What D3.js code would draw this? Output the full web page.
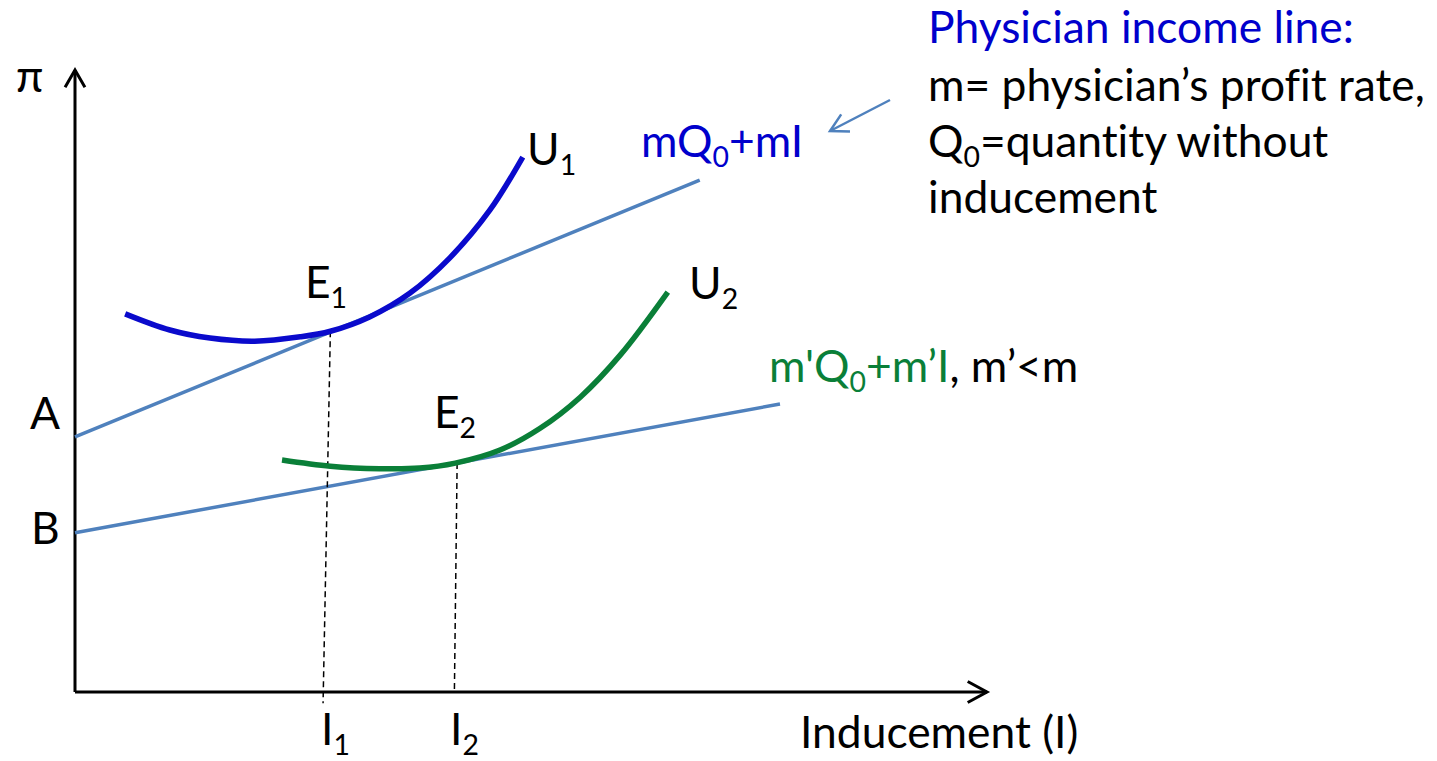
<!DOCTYPE html>
<html>
<head>
<meta charset="utf-8">
<script src="https://cdn.jsdelivr.net/npm/d3@7"></script>
<style>
  body { margin: 0; background: #fff; }
  svg { display: block; }
  text { font-family: Lato, "Open Sans", sans-serif; font-variant-ligatures: none; }
</style>
</head>
<body>
<script>
const width = 1437, height = 761;

// physician income lines, [I, pi] end points
const lineA = [[0, 41.0], [68.5, 82.3]];
const lineB = [[0, 25.6], [77.3, 46.3]];

// indifference curves
const u1I  = [5.5, 10.4, 14.8, 19.7, 24.7, 28.0, 32.3, 36.7, 41.1, 45.5, 49.1];
const u1Pi = [60.8, 58.2, 56.9, 56.4, 57.1, 58.0, 60.3, 64.1, 69.8, 77.5, 86.0];
const u2I  = [22.7, 28.0, 33.4, 37.8, 41.7, 46.6, 51.0, 55.4, 59.8, 65.0];
const u2Pi = [37.3, 36.3, 35.9, 36.0, 36.8, 38.9, 42.4, 47.4, 54.2, 64.3];

// equilibrium drop lines, [I, pi]
const dropE1 = [[28.0, 58.0], [27.2, -1.8]];
const dropE2 = [[41.9, 36.8], [41.6, 0]];

const x = d3.scaleLinear().domain([0, 100]).range([75, 987]);
const y = d3.scaleLinear().domain([0, 100]).range([692, 70]);

const svg = d3.select("body").append("svg")
    .attr("width", width)
    .attr("height", height);

const line = d3.line().x(d => x(d[0])).y(d => y(d[1]));
const curve = d3.line().x(d => x(d[0])).y(d => y(d[1])).curve(d3.curveCatmullRom);

function arrowHead(tx, ty, angle, len, spread) {
    // open V head, angle = direction the arrow points
    const a1 = angle + Math.PI - spread, a2 = angle + Math.PI + spread;
    return "M" + (tx + len * Math.cos(a1)) + "," + (ty + len * Math.sin(a1)) +
        "L" + tx + "," + ty +
        "L" + (tx + len * Math.cos(a2)) + "," + (ty + len * Math.sin(a2));
}

// axes
const axes = svg.append("g")
    .attr("fill", "none")
    .attr("stroke", "#000")
    .attr("stroke-width", 3);
axes.append("path").attr("d", line([[0, 0], [0, 100]]));
axes.append("path").attr("d", line([[0, 0], [100, 0]]));
axes.append("path").attr("d", arrowHead(x(0), y(100), -Math.PI / 2, 20, 0.52));
axes.append("path").attr("d", arrowHead(x(100), y(0), 0, 22, 0.5));

// income lines
svg.selectAll(".income")
    .data([lineA, lineB])
    .enter()
    .append("path")
    .attr("class", "income")
    .attr("d", line)
    .attr("fill", "none")
    .attr("stroke", "#4f81bd")
    .attr("stroke-width", 3.5);

// drop lines
svg.selectAll(".drop")
    .data([dropE1, dropE2])
    .enter()
    .append("path")
    .attr("class", "drop")
    .attr("d", line)
    .attr("fill", "none")
    .attr("stroke", "#000")
    .attr("stroke-width", 1.5)
    .attr("stroke-dasharray", "6,4");

// indifference curves
svg.append("path")
    .attr("d", curve(d3.zip(u1I, u1Pi)))
    .attr("fill", "none")
    .attr("stroke", "#0a0acc")
    .attr("stroke-width", 5.5);

svg.append("path")
    .attr("d", curve(d3.zip(u2I, u2Pi)))
    .attr("fill", "none")
    .attr("stroke", "#0a7f38")
    .attr("stroke-width", 5.5);

// pointer arrow to the income line label
svg.append("path")
    .attr("d", "M890,100L830,131")
    .attr("fill", "none")
    .attr("stroke", "#4f81bd")
    .attr("stroke-width", 2.5);
svg.append("path")
    .attr("d", arrowHead(830, 131, Math.atan2(31, -60), 20, 0.5))
    .attr("fill", "none")
    .attr("stroke", "#4f81bd")
    .attr("stroke-width", 2.5);

// text
const blue = "#0000cc", green = "#0a7f38", black = "#000";

// pick a font size so the longest note line matches the reference width
const probe = svg.append("text")
    .attr("font-size", 47)
    .text("m= physician\u2019s profit rate,");
const fs = 47 * 497 / probe.node().getComputedTextLength();
probe.remove();
const sub = fs * 0.64;
const drop = fs * 0.22;

function label(px, py, parts) {
    const t = svg.append("text")
        .attr("x", px)
        .attr("y", py)
        .attr("font-size", fs);
    let down = false;
    parts.forEach(p => {
        const s = t.append("tspan")
            .attr("fill", p.c || black)
            .text(p.t);
        if (p.sub && !down) { s.attr("dy", drop).attr("font-size", sub); down = true; }
        else if (!p.sub && down) { s.attr("dy", -drop); down = false; }
        else if (p.sub) s.attr("font-size", sub);
    });
    return t;
}

label(16, 92, [{ t: "\u03c0" }]);
label(30, 429, [{ t: "A" }]);
label(31, 544, [{ t: "B" }]);
label(305, 298, [{ t: "E" }, { t: "1", sub: true }]);
label(434, 428, [{ t: "E" }, { t: "2", sub: true }]);
label(527, 165, [{ t: "U" }, { t: "1", sub: true }]);
label(689, 299, [{ t: "U" }, { t: "2", sub: true }]);
label(641, 157, [{ t: "mQ", c: blue }, { t: "0", sub: true, c: blue }, { t: "+mI", c: blue }]);
label(769, 382, [{ t: "m'Q", c: green }, { t: "0", sub: true, c: green },
    { t: "+m\u2019I", c: green }, { t: ", m\u2019<m" }]);
label(321, 745, [{ t: "I" }, { t: "1", sub: true }]);
label(450, 745, [{ t: "I" }, { t: "2", sub: true }]);
label(800, 748, [{ t: "Inducement (I)" }]);

label(928, 43, [{ t: "Physician income line:", c: blue }]);
label(928, 101, [{ t: "m= physician\u2019s profit rate," }]);
label(928, 157, [{ t: "Q" }, { t: "0", sub: true }, { t: "=quantity without" }]);
label(928, 213, [{ t: "inducement" }]);
</script>
</body>
</html>
